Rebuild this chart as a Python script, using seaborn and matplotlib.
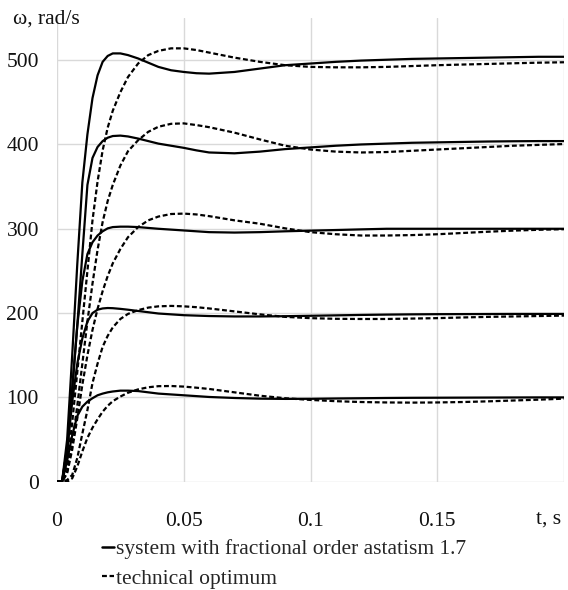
import numpy as np
import pandas as pd
import matplotlib
matplotlib.use("Agg")
import matplotlib.pyplot as plt
import seaborn as sns
from matplotlib.lines import Line2D

# time points, s
t_s = [0, 0.002, 0.004, 0.006, 0.008, 0.010, 0.012, 0.014, 0.016, 0.018, 0.020,
       0.022, 0.025, 0.028, 0.032, 0.036, 0.040, 0.045, 0.050, 0.055, 0.060,
       0.070, 0.080, 0.090, 0.100, 0.110, 0.120, 0.130, 0.140, 0.150, 0.160,
       0.170, 0.180, 0.190, 0.200]

# system with fractional order astatism 1.7 (solid)
frac_100 = [0, 0, 25, 55, 78, 89, 95, 99, 102.5, 104.5, 106, 107, 108, 108, 107.5,
            106, 104.5, 103.5, 102.5, 101.5, 100.5, 99.3, 98.5, 98.2, 98.3, 98.7,
            99, 99.3, 99.5, 99.6, 99.7, 99.8, 99.9, 100, 100]
frac_200 = [0, 0, 35, 95, 140, 170, 190, 200, 204, 205.5, 206, 205.8, 205, 204,
            202.5, 201, 199.5, 198.5, 197.5, 197, 196.5, 196, 196, 196.3, 196.8,
            197.3, 197.8, 198.2, 198.5, 198.7, 198.8, 198.9, 199, 199, 199]
frac_300 = [0, 0, 40, 110, 185, 238, 270, 284, 292, 297, 300.5, 302, 302.5, 302.5,
            302, 301, 300, 299, 298, 297, 296, 295.5, 296, 297, 297.8, 298.5, 299.3,
            300, 300, 300, 300, 300, 300, 300, 300]
frac_400 = [0, 0, 40, 110, 185, 270, 352, 384, 397, 404, 408, 410, 410.5, 409.5,
            407, 404, 401, 398.5, 396, 393, 390.5, 389.5, 391.5, 394.5, 396.5, 398.5,
            400, 401, 402, 402.5, 403, 403.5, 403.8, 404, 404]
frac_500 = [0, 0, 50, 150, 258, 355, 412, 455, 482, 498, 505, 508, 508, 506, 502,
            497, 492, 488, 486, 484.5, 484, 486, 490, 494, 496, 498, 499.5, 500.5,
            501.5, 502, 502.5, 503, 503.5, 504, 504]

# technical optimum (dashed)
tech_100 = [0, 0, 0, 4, 18, 36, 52, 64, 74, 83, 90, 95.5, 101, 105.5, 109.5, 112,
            113.3, 113.5, 112.8, 111.5, 110, 106, 102, 99, 97, 95.5, 94.5, 94, 93.8,
            94, 94.5, 95.3, 96.3, 97.3, 98.5]
tech_200 = [0, 0, 2, 8, 28, 57, 85, 117, 140, 160, 173, 183, 193, 199, 203.5, 206.5,
            208, 208.5, 208, 207, 205.5, 202, 198.5, 195.5, 194, 193.2, 193, 193,
            193.5, 194, 194.8, 195.5, 196, 196.5, 197]
tech_300 = [0, 0, 10, 38, 75, 115, 150, 180, 205, 226, 244, 259, 276, 290, 302, 310,
            314.5, 317.5, 318, 317, 315, 310, 306, 300.5, 296, 293.5, 292, 292, 292.5,
            293.5, 295, 296.5, 297.8, 298.8, 299.5]
tech_400 = [0, 0, 12, 45, 90, 140, 190, 235, 275, 308, 333, 352, 375, 392, 405, 415,
            421, 424.5, 425, 423, 420.5, 414, 406, 398.5, 394, 391.5, 390.5, 391,
            392.5, 394, 395.5, 397, 398.5, 399.5, 400.5]
tech_500 = [0, 0, 20, 70, 130, 190, 250, 310, 356, 393, 420, 440, 462, 480, 496, 506,
            511, 514, 514, 512, 509, 503, 498, 494, 492, 491.5, 491.5, 492, 493, 494,
            494.8, 495.5, 496.3, 497, 497.5]

x_ticks = [0, 0.05, 0.1, 0.15]
x_tick_labels = ["0", "0.05", "0.1", "0.15"]
x_title = "t, s"
y_ticks = [0, 100, 200, 300, 400, 500]
y_tick_labels = ["0", "100", "200", "300", "400", "500"]
y_title = "ω, rad/s"
legend_labels = ["system with fractional order astatism 1.7", "technical optimum"]

frac = {100: frac_100, 200: frac_200, 300: frac_300, 400: frac_400, 500: frac_500}
tech = {100: tech_100, 200: tech_200, 300: tech_300, 400: tech_400, 500: tech_500}

rows = []
for lvl, vals in frac.items():
    for t, v in zip(t_s, vals):
        rows.append(("frac", f"frac{lvl}", t, v))
for lvl, vals in tech.items():
    for t, v in zip(t_s, vals):
        rows.append(("tech", f"tech{lvl}", t, v))
df = pd.DataFrame(rows, columns=["kind", "curve", "t", "omega"])

sns.set_theme(style="white")
plt.rcParams["font.family"] = ["Liberation Serif", "DejaVu Serif"]

fig = plt.figure(figsize=(5.68, 5.90), dpi=100)
ax = fig.add_axes([57 / 568, (590 - 481.7) / 590, (564 - 57) / 568, (481.7 - 18) / 590])

DASH = (2.2, 1.2)
sns.lineplot(data=df, x="t", y="omega", units="curve", style="kind", estimator=None,
             sort=False, color="black", linewidth=1.6,
             dashes={"frac": "", "tech": DASH}, legend=False, ax=ax)

ax.set_xlim(0, 0.2)
ax.set_ylim(0, 550)
ax.set_xticks(x_ticks + [0.2])
ax.set_xticklabels(x_tick_labels + [""])
ax.set_yticks(y_ticks)
ax.set_yticklabels(y_tick_labels)
ax.set_xlabel("")
ax.set_ylabel("")
ax.grid(True, color="#d9d9d9", linewidth=1.0)
ax.set_axisbelow(True)
for s in ax.spines.values():
    s.set_visible(False)
ax.tick_params(axis="both", length=0, labelsize=15.5, colors="#111111")
ax.tick_params(axis="x", pad=22)
ax.tick_params(axis="y", pad=13)

fig.text(13 / 568, 1 - 19 / 590, y_title, fontsize=15.5, ha="left", va="center",
         color="#111111")
fig.text(549 / 568, 1 - 519 / 590, x_title, fontsize=15.5, ha="center", va="center",
         color="#111111")

handles = [Line2D([], [], color="black", linewidth=1.8),
           Line2D([], [], color="black", linewidth=1.6, dashes=DASH)]
fig.legend(handles, legend_labels, loc="upper left",
           bbox_to_anchor=(102 / 568, 1 - 539 / 590), frameon=False,
           fontsize=15.5, handlelength=0.55, handletextpad=0.1, borderpad=0,
           labelspacing=0.45, borderaxespad=0)

fig.savefig("out.png", dpi=100)
